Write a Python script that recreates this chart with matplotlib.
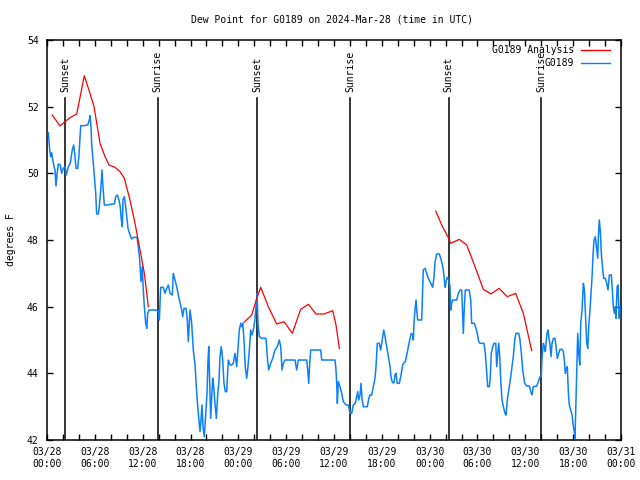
import numpy as np
import matplotlib
matplotlib.use("Agg")
import matplotlib.pyplot as plt

# ---- data (hours since 2024-03-28 00:00 UTC, dew point in F) ----
obs_hours = [0.16,0.34,0.46,0.59,0.72,0.84,1.0,1.13,1.25,1.42,1.67,1.84,2.04,2.26,2.42,2.67,2.92,3.17,3.35,3.51,
 3.64,3.85,4.01,4.14,4.23,4.68,5.1,5.31,5.39,5.52,5.61,5.81,5.93,6.11,6.23,6.44,6.56,6.77,6.9,7.02,
 7.19,7.69,8.12,8.44,8.62,8.82,9.03,9.19,9.32,9.45,9.53,9.7,9.82,10.0,10.16,10.41,10.62,10.88,11.29,11.45,
 11.63,11.79,11.95,12.08,12.21,12.38,12.51,12.63,12.8,13.55,13.96,14.09,14.26,14.59,14.8,15.02,15.22,15.43,15.72,15.84,
 16.06,16.27,16.56,16.9,17.02,17.19,17.44,17.6,17.72,17.94,18.15,18.35,18.57,18.78,18.98,19.19,19.32,19.44,19.57,19.73,
 19.91,20.07,20.2,20.29,20.41,20.53,20.66,20.79,20.91,21.07,21.24,21.41,21.58,21.7,21.86,22.04,22.2,22.37,22.54,22.74,
 22.96,23.17,23.37,23.58,23.8,23.96,24.12,24.3,24.42,24.55,24.71,24.87,25.05,25.21,25.38,25.55,25.72,25.88,26.05,26.22,
 26.35,26.47,26.63,26.93,27.47,27.63,27.81,28.06,28.31,28.6,28.89,29.14,29.32,29.48,29.65,29.86,31.11,31.32,31.52,32.58,
 32.7,32.83,32.95,33.08,34.33,34.46,36.13,36.25,36.34,36.42,36.54,36.75,36.97,37.17,37.51,37.8,38.01,38.22,38.42,38.67,
 38.85,38.97,39.1,39.26,39.39,39.51,39.68,40.18,40.36,40.52,40.73,40.93,41.14,41.27,41.43,41.68,41.86,41.98,42.11,42.24,
 42.4,42.61,42.81,43.03,43.15,43.32,43.53,43.65,43.78,43.94,44.19,44.37,44.62,44.78,44.95,45.12,45.32,45.54,45.7,45.88,
 45.95,46.04,46.16,46.29,46.38,46.5,47.0,47.13,47.2,47.42,47.63,47.83,48.13,48.38,48.55,48.67,48.88,49.21,49.39,49.55,
 49.71,49.84,49.96,50.05,50.21,50.39,50.55,50.64,50.76,50.89,51.39,51.6,51.81,52.02,52.15,52.22,52.35,52.47,52.97,53.15,
 53.27,53.6,53.81,53.98,54.15,54.32,54.82,54.98,55.16,55.28,55.48,55.61,55.73,55.91,56.07,56.29,56.41,56.54,56.66,56.79,
 56.91,57.08,57.24,57.45,57.58,57.74,57.99,58.17,58.33,58.49,58.67,58.83,59.17,59.33,59.5,59.67,59.92,60.17,60.5,60.68,
 60.84,61.0,61.43,61.63,61.84,62.0,62.09,62.26,62.38,62.51,62.59,62.72,62.84,62.97,63.1,63.22,63.35,63.51,63.73,63.85,
 64.01,64.19,64.35,64.6,64.77,64.89,65.02,65.14,65.27,65.4,65.52,65.69,65.86,66.02,66.15,66.23,66.32,66.45,66.57,66.7,
 66.83,66.95,67.11,67.28,67.41,67.58,67.7,67.83,67.95,68.11,68.24,68.37,68.49,68.62,68.78,68.96,69.08,69.16,69.28,69.41,
 69.53,69.71,69.83,70.03,70.21,70.37,70.54,70.79,70.92,71.04,71.17,71.3,71.38,71.51,71.63,71.72,71.79,71.88]
obs_values = [51.22,50.7,50.5,50.62,50.4,50.25,50.1,49.62,49.95,50.28,50.25,50.0,50.15,50.2,49.95,50.2,50.3,50.7,50.85,50.5,
 50.15,50.15,50.55,51.1,51.43,51.43,51.45,51.6,51.73,51.4,50.85,50.3,49.95,49.4,48.78,48.78,49.0,49.6,50.1,49.6,
 49.05,49.05,49.08,49.08,49.3,49.35,49.2,49.0,48.6,48.4,49.2,49.3,49.1,48.7,48.35,48.15,48.03,48.08,48.08,47.8,
 47.4,46.75,47.2,46.5,46.0,45.5,45.35,45.8,45.9,45.9,45.88,45.6,46.58,46.58,46.4,46.55,46.65,46.4,46.35,47.0,
 46.8,46.6,46.25,45.9,45.7,45.95,45.95,45.6,44.95,45.9,45.5,44.7,44.25,43.4,42.8,42.25,42.6,43.05,42.4,42.1,
 42.8,43.4,44.4,44.8,43.7,42.65,43.3,43.85,43.6,43.1,42.65,43.35,43.8,44.5,44.8,44.4,43.7,43.45,43.45,44.4,
 44.25,44.25,44.3,44.6,44.2,44.75,45.3,45.5,45.4,45.5,45.0,44.2,43.85,44.2,44.7,45.3,45.15,45.3,45.55,46.0,
 46.4,45.45,45.1,45.05,45.05,44.5,44.1,44.3,44.45,44.7,44.8,45.0,44.8,44.1,44.3,44.4,44.4,44.1,44.4,44.4,
 44.1,43.7,44.3,44.7,44.7,44.4,44.4,44.1,43.7,43.1,43.75,43.6,43.4,43.15,43.05,43.05,42.8,42.8,43.05,43.1,
 43.3,43.45,43.2,43.35,43.7,43.25,43.0,43.0,43.25,43.35,43.35,43.6,43.85,44.2,44.9,44.9,44.7,44.9,45.1,45.3,
 45.1,44.8,44.5,44.2,43.9,43.72,43.72,43.95,44.0,43.7,43.7,43.9,44.25,44.32,44.35,44.55,44.8,45.05,45.2,45.15,
 45.0,45.55,45.9,46.2,45.9,45.6,45.6,46.55,47.1,47.15,47.0,46.85,46.7,46.58,46.9,47.35,47.58,47.58,47.45,47.3,
 47.1,46.8,46.58,46.75,46.88,46.8,46.62,45.9,46.1,46.2,46.2,46.4,46.5,46.5,45.6,45.2,46.0,46.5,46.5,46.2,
 45.5,45.5,45.35,45.2,44.95,44.9,44.9,44.6,44.0,43.6,43.6,43.9,44.6,44.8,44.9,44.9,44.2,44.6,44.9,44.5,
 43.8,43.2,43.0,42.8,42.75,43.2,43.6,43.9,44.2,44.5,45.0,45.2,45.2,45.0,44.6,44.1,43.7,43.62,43.62,43.45,
 43.35,43.6,43.62,43.75,43.9,43.9,44.45,44.9,44.8,44.65,44.9,45.2,45.3,45.05,44.85,44.5,44.9,45.05,45.05,44.8,
 44.45,44.6,44.72,44.72,44.65,44.4,44.0,44.15,44.2,43.4,43.05,42.9,42.75,42.4,42.25,42.05,42.9,44.1,45.2,44.6,
 44.25,45.5,45.9,46.7,46.5,45.6,44.9,44.75,45.4,45.9,46.4,46.9,47.55,48.0,48.1,47.7,47.45,48.1,48.6,48.25,
 47.6,47.1,46.85,46.85,46.7,46.5,46.95,46.95,46.45,46.0,45.8,46.0,45.65,46.6,46.65,46.0,45.65,46.0]

ana1_hours = [0.66,1.63,2.35,3.1,3.73,4.68,5.39,5.9,6.65,7.28,7.78,8.53,9.16,9.7,10.41,11.04,11.67,12.21,12.71]
ana1_values = [51.75,51.42,51.57,51.7,51.78,52.93,52.4,52.0,50.9,50.5,50.25,50.18,50.05,49.85,49.2,48.5,47.7,47.0,46.0]
ana2_hours = [24.71,25.68,26.31,26.81,27.76,28.81,29.73,30.77,31.82,32.78,33.74,34.75,35.84,36.25,36.67]
ana2_values = [45.53,45.75,46.25,46.58,46.0,45.48,45.55,45.2,45.92,46.07,45.78,45.78,45.88,45.45,44.75]
ana3_hours = [48.76,49.51,50.34,50.64,51.72,52.65,53.69,54.73,55.7,56.7,57.74,58.79,59.75,60.8]
ana3_values = [48.87,48.45,48.07,47.9,48.02,47.85,47.2,46.52,46.38,46.55,46.3,46.4,45.8,44.68]

sun_hours = [2.26, 13.9, 26.35, 38.0, 50.4, 62.0]
sun_labels = ["Sunset", "Sunrise", "Sunset", "Sunrise", "Sunset", "Sunrise"]

xtick_hours = [0, 6, 12, 18, 24, 30, 36, 42, 48, 54, 60, 66, 72]
xtick_labels = ["03/28\n00:00", "03/28\n06:00", "03/28\n12:00", "03/28\n18:00",
                "03/29\n00:00", "03/29\n06:00", "03/29\n12:00", "03/29\n18:00",
                "03/30\n00:00", "03/30\n06:00", "03/30\n12:00", "03/30\n18:00",
                "03/31\n00:00"]
ytick_values = [42, 44, 46, 48, 50, 52, 54]

title = "Dew Point for G0189 on 2024-Mar-28 (time in UTC)"
ylabel = "degrees F"
legend_labels = ["G0189 Analysis", "G0189"]

# ---- plot ----
plt.rcParams['font.family'] = ['DejaVu Sans Mono']
FS = 7
RED = '#ff0000'
BLUE = '#0a80ff'

fig = plt.figure(figsize=(6.4, 4.8), dpi=100)
ax = fig.add_axes([47/640, 40/480, 574/640, 400/480])

nan = [np.nan]
ana_h = ana1_hours + nan + ana2_hours + nan + ana3_hours
ana_v = ana1_values + nan + ana2_values + nan + ana3_values

ax.plot(obs_hours, obs_values, color=BLUE, lw=1.1, zorder=3)
ax.plot(ana_h, ana_v, color=RED, lw=0.9, zorder=4)

line_top = 52.26
for h, lab in zip(sun_hours, sun_labels):
    ax.plot([h, h], [42, line_top], color='black', lw=1.1, zorder=2)
    ax.text(h, line_top + 0.17, lab, rotation=90, ha='center', va='bottom',
            fontsize=FS, zorder=5)

ax.set_xlim(0, 72)
ax.set_ylim(42, 54)
ax.set_xticks(xtick_hours)
ax.set_xticklabels(xtick_labels)
ax.set_xticks(np.arange(0, 73, 2), minor=True)
ax.set_yticks(ytick_values)
ax.tick_params(axis='both', which='both', direction='in', top=True, right=True,
               labelsize=FS, width=1.0, length=4.5, pad=5)
ax.tick_params(axis='x', which='minor', length=4.5)
ax.tick_params(axis='y', pad=6)
for s in ax.spines.values():
    s.set_linewidth(1.1)

fig.text(332/640, 1 - 20/480, title, ha='center', va='center', fontsize=FS)
fig.text(11/640, 0.5, ylabel, rotation=90, ha='center', va='center', fontsize=FS)

# legend (top right, text right-aligned, sample after text)
for i, (lab, col) in enumerate(zip(legend_labels, [RED, BLUE])):
    yy = 0.975 - i * 0.0325
    ax.text(0.918, yy, lab, transform=ax.transAxes, ha='right', va='center',
            fontsize=FS, zorder=6)
    ax.plot([0.930, 0.981], [yy, yy], transform=ax.transAxes, color=col,
            lw=1.0, zorder=6)

fig.savefig("out.png", dpi=100)
